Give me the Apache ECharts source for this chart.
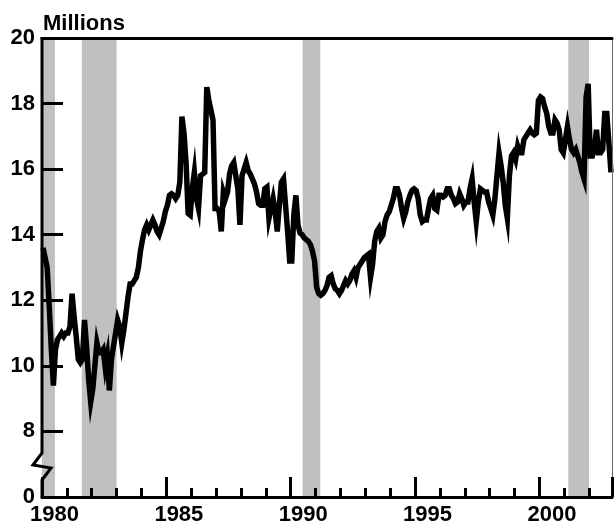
<!DOCTYPE html>
<html>
<head>
    <meta charset="utf-8" />
    <title>Millions</title>
    <script src="https://cdn.jsdelivr.net/npm/echarts@6/dist/echarts.min.js"></script>
</head>
<body style="margin:0;background:#fff;">
    <div id="container" style="width:615px;height:527px;"></div>
    <script type="text/javascript">
        // monthly values, Jan 1980 .. Nov 2002 (millions)
        var startYear = 1980;
        var sales = [
            13.6, 13.3, 13.0, 11.8, 10.5, 9.4, 10.5, 10.8, 10.9, 11.0, 10.9, 11.0,
            11.0, 11.2, 12.2, 11.5, 10.9, 10.2, 10.1, 10.2, 11.4, 10.6, 9.6, 8.9,
            9.3, 10.0, 10.7, 10.4, 10.4, 10.5, 9.95, 10.3, 9.25, 10.2, 10.6, 11.0,
            11.4, 11.2, 10.7, 11.1, 11.6, 12.1, 12.5, 12.5, 12.6, 12.7, 13.0, 13.5,
            13.85, 14.15, 14.3, 14.15, 14.3, 14.45, 14.3, 14.1, 14.0, 14.2, 14.4, 14.7,
            14.9, 15.2, 15.25, 15.2, 15.1, 15.2, 15.6, 17.6, 17.1, 16.2, 14.65, 14.6,
            15.4, 15.9, 15.1, 14.8, 15.8, 15.85, 15.9, 18.5, 18.1, 17.8, 17.5, 14.8,
            14.8, 14.7, 14.1, 15.3, 15.1, 15.3, 15.85, 16.1, 16.2, 15.8, 15.4, 14.3,
            15.8, 16.0, 16.2, 15.95, 15.85, 15.7, 15.55, 15.3, 14.95, 14.9, 14.9, 15.4,
            15.45, 14.5, 14.8, 15.1, 14.7, 14.1, 14.9, 15.6, 15.7, 14.9, 14.1, 13.2,
            13.2, 14.6, 15.2, 14.3, 14.05, 14.0, 13.9, 13.85, 13.8, 13.7, 13.5, 13.2,
            12.4, 12.2, 12.15, 12.2, 12.3, 12.45, 12.7, 12.75, 12.5, 12.35, 12.3, 12.2,
            12.3, 12.45, 12.6, 12.5, 12.6, 12.8, 12.9, 12.7, 13.0, 13.1, 13.2, 13.3,
            13.35, 13.4, 12.7, 13.1, 13.8, 14.1, 14.2, 13.9, 14.0, 14.4, 14.6, 14.7,
            14.9, 15.1, 15.4, 15.4, 15.2, 14.8, 14.5, 14.7, 15.0, 15.2, 15.35, 15.4,
            15.35, 15.1, 14.6, 14.4, 14.45, 14.45, 14.8, 15.1, 15.2, 14.8, 14.75, 15.2,
            15.2, 15.15, 15.2, 15.4, 15.4, 15.2, 15.1, 14.95, 15.0, 15.25, 15.1, 14.9,
            15.0, 15.0, 15.4, 15.7, 15.0, 14.4, 15.0, 15.4, 15.35, 15.3, 15.3, 15.0,
            14.8, 14.6, 15.1, 15.8, 16.5, 16.1, 15.6, 14.9, 14.5, 15.8, 16.4, 16.5,
            16.3, 16.7, 16.5, 16.5, 16.9, 17.0, 17.1, 17.2, 17.1, 17.05, 17.1, 18.1,
            18.2, 18.15, 17.9, 17.7, 17.3, 17.1, 17.1, 17.5, 17.4, 17.2, 16.6, 16.5,
            16.9, 17.3, 16.9, 16.6, 16.5, 16.6, 16.4, 16.2, 15.9, 15.7, 18.2, 18.6,
            16.4, 16.4, 16.6, 17.2, 16.5, 16.5, 16.6, 17.7, 17.7, 16.8, 15.9
        ];
        // shaded periods (decimal years)
        var recessions = [
            [1980.0, 1980.52],
            [1981.6, 1983.0],
            [1990.48, 1991.19],
            [2001.16, 2001.99]
        ];
        var yTicks = [6, 8, 10, 12, 14, 16, 18, 20];
        var yTickLabels = ['0', '8', '10', '12', '14', '16', '18', '20'];
        var xLabelYears = [1980, 1985, 1990, 1995, 2000];

        var xMax = startYear + (sales.length) / 12;
        var lineData = sales.map(function (v, i) {
            return [startYear + (i + 0.5) / 12, v];
        });
        var font = '"Liberation Sans", Arial, sans-serif';

        var chart = echarts.init(document.getElementById('container'));
        var option = {
            animation: false,
            backgroundColor: '#fff',
            title: {
                text: 'Millions',
                left: 38,
                top: 8,
                textStyle: { fontFamily: font, fontWeight: 'bold', fontSize: 22, color: '#000' }
            },
            grid: { left: 42, right: 1, top: 38, bottom: 30 },
            xAxis: [{
                type: 'value',
                position: 'bottom',
                min: startYear,
                max: xMax,
                interval: 1,
                z: 5,
                axisLine: { show: true, onZero: false, lineStyle: { color: '#000', width: 3 } },
                axisTick: { show: true, inside: true, length: 9, lineStyle: { color: '#000', width: 3 } },
                axisLabel: {
                    margin: 7,
                    padding: [0, 0, 0, 25],
                    fontFamily: font, fontWeight: 'bold', fontSize: 22, color: '#000',
                    formatter: function (v) {
                        return xLabelYears.indexOf(v) >= 0 ? String(v) : '';
                    }
                },
                splitLine: { show: false }
            }, {
                type: 'value',
                position: 'bottom',
                min: startYear,
                max: xMax,
                interval: 5,
                z: 5,
                axisLine: { show: false, onZero: false },
                axisTick: { show: true, inside: true, length: 20, lineStyle: { color: '#000', width: 3 } },
                axisLabel: { show: false },
                splitLine: { show: false }
            }, {
                type: 'value',
                position: 'top',
                min: startYear,
                max: xMax,
                z: 5,
                axisLine: { show: true, onZero: false, lineStyle: { color: '#000', width: 3 } },
                axisTick: { show: false },
                axisLabel: { show: false },
                splitLine: { show: false }
            }],
            yAxis: [{
                type: 'value',
                min: 6,
                max: 20,
                interval: 2,
                z: 5,
                axisLine: { show: false },
                axisTick: { show: true, inside: true, length: 21, lineStyle: { color: '#000', width: 3 } },
                axisLabel: {
                    margin: 7,
                    fontFamily: font, fontWeight: 'bold', fontSize: 22, color: '#000',
                    formatter: function (v) {
                        var k = yTicks.indexOf(v);
                        return k >= 0 ? yTickLabels[k] : '';
                    }
                },
                splitLine: { show: false }
            }, {
                type: 'value',
                position: 'right',
                min: 6,
                max: 20,
                z: 5,
                axisLine: { show: true, lineStyle: { color: '#666', width: 1 } },
                axisTick: { show: false },
                axisLabel: { show: false },
                splitLine: { show: false }
            }],
            series: [{
                type: 'line',
                data: lineData,
                showSymbol: false,
                symbol: 'none',
                lineStyle: { color: '#000', width: 5.5, join: 'miter' },
                z: 3,
                markArea: {
                    silent: true,
                    itemStyle: { color: '#c0c0c0' },
                    data: recessions.map(function (r) {
                        return [{ xAxis: r[0] }, { xAxis: r[1] }];
                    })
                }
            }]
        };
        chart.setOption(option);

        // y axis line with a break between 0 and 8
        var p0 = chart.convertToPixel({ gridIndex: 0 }, [startYear, 6]);
        var pTop = chart.convertToPixel({ gridIndex: 0 }, [startYear, 20]);
        var ax = p0[0], by = p0[1];
        chart.setOption({
            graphic: [{
                type: 'polyline',
                z: 100,
                shape: {
                    points: [
                        [ax, by + 1],
                        [ax, by - 17],
                        [ax + 9, by - 29],
                        [ax - 9, by - 32],
                        [ax, by - 44],
                        [ax, pTop[1] - 1]
                    ]
                },
                style: { stroke: '#000', lineWidth: 3, fill: null }
            }]
        });
    </script>
</body>
</html>
